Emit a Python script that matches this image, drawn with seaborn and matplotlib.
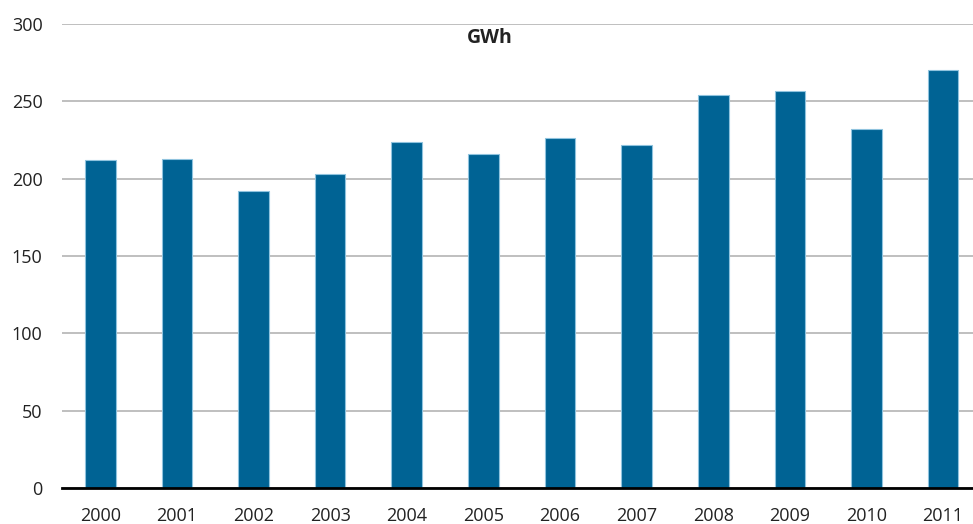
import matplotlib
matplotlib.use("Agg")
import matplotlib.pyplot as plt
import seaborn as sns
import pandas as pd

# values (GWh)
years = ["2000", "2001", "2002", "2003", "2004", "2005",
         "2006", "2007", "2008", "2009", "2010", "2011"]
gwh = [212, 213, 192, 203, 224, 216, 226, 222, 254, 257, 232, 270]
y_ticks = [0, 50, 100, 150, 200, 250, 300]

sns.set_theme(style="white")
plt.rcParams['font.family'] = ['Open Sans', 'DejaVu Sans']

df = pd.DataFrame({"year": years, "gwh": gwh})

fig = plt.figure(figsize=(9.73, 5.24), dpi=100)
ax = fig.add_axes([62 / 973, 36 / 524, 911 / 973, 464 / 524])

sns.barplot(data=df, x="year", y="gwh", color="#006394", saturation=1,
            width=0.4, edgecolor="#8fc3de", linewidth=0.8, ax=ax, zorder=3)

ax.set_ylim(0, 300)
ax.set_xlim(-0.5, 11.39)
ax.set_yticks(y_ticks)
ax.yaxis.grid(True, color="#b4b4b4", linewidth=1.2, zorder=0)
ax.set_axisbelow(True)
for s in ["top", "right", "left"]:
    ax.spines[s].set_visible(False)
ax.spines["bottom"].set_color("black")
ax.spines["bottom"].set_linewidth(2)
ax.spines["bottom"].set_zorder(5)
ax.set_xlabel("")
ax.set_ylabel("")
ax.tick_params(axis="both", length=0, labelsize=13, colors="#222222")
ax.tick_params(axis="y", pad=14)
ax.tick_params(axis="x", pad=14)

fig.text(490 / 973, 1 - 38 / 524, "GWh", ha="center", va="center",
         fontsize=14, fontweight="bold", color="#222222")

fig.savefig("out.png", dpi=100)
